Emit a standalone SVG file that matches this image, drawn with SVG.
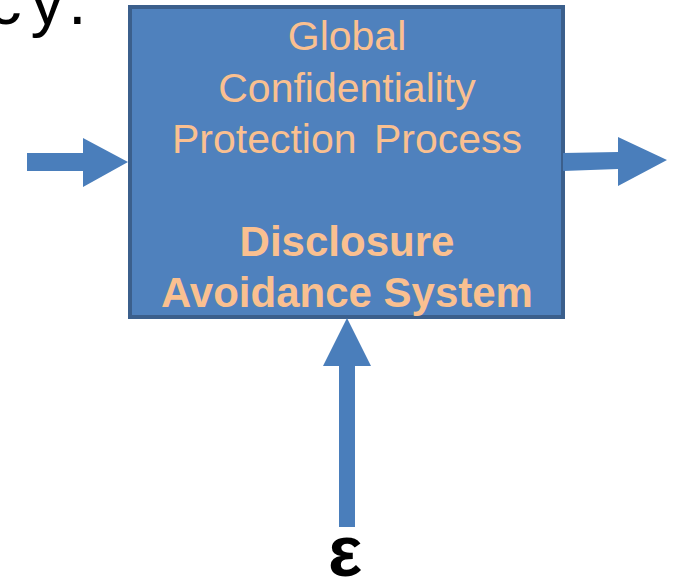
<svg xmlns="http://www.w3.org/2000/svg" width="677" height="584" viewBox="0 0 677 584">
<style>
.box{fill:#4f81bd;stroke:#3b5f8c;stroke-width:4}
.lbl{font-family:"Liberation Sans",Arial,sans-serif;font-size:41px;fill:#fac090;text-anchor:middle}
.b{font-weight:bold;font-size:42px}
.arr{fill:#4a7ebb}
.blk{font-family:"Liberation Sans",Arial,sans-serif;fill:#000}
</style>
<rect width="677" height="584" fill="#ffffff"/>
<text class="blk" x="-12" y="24" font-size="67" letter-spacing="9">cy.</text>
<g id="process">
<rect class="box" x="130" y="7" width="433" height="310"/>
<text class="lbl" x="347" y="50">Global</text>
<text class="lbl" x="347" y="102">Confidentiality</text>
<text class="lbl" x="347" y="153" word-spacing="6">Protection Process</text>
<text class="lbl b" x="347" y="256">Disclosure</text>
<text class="lbl b" x="347" y="307">Avoidance System</text>
</g>
<g id="epsilon">
<text class="blk" x="345" y="576" font-size="72" font-weight="bold" text-anchor="middle">ε</text>
</g>
<g id="connectors">
<polygon class="arr" points="27,153 83,153 83,138 128,162 83,187 83,171 27,171"/>
<polygon class="arr" points="563,153 618,152 618,137 667,160 618,186 618,169 563,171"/>
<polygon class="arr" points="347,318 371,366 355,366 355,527 339,527 339,366 323,366"/>
</g>
</svg>
